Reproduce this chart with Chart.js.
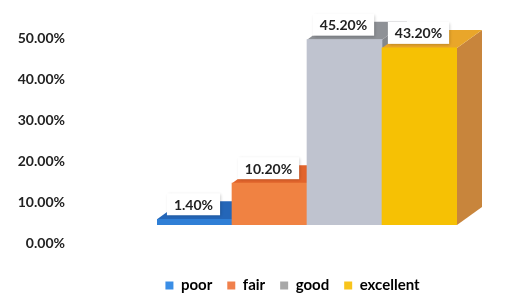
<!DOCTYPE html>
<html>
<head>
<meta charset="utf-8">
<script src="https://cdn.jsdelivr.net/npm/chart.js@4.4.1/dist/chart.umd.min.js"></script>
<style>
  html, body { margin: 0; padding: 0; background: #fff; }
  #wrap { width: 526px; height: 296px; }
</style>
</head>
<body>
<div id="wrap"><canvas id="c" width="526" height="296"></canvas></div>
<script>
// DATA
const categories = ['poor', 'fair', 'good', 'excellent'];
const shares = [1.4, 10.2, 45.2, 43.2];
const yTicks = [0, 10, 20, 30, 40, 50];

// face colours: front / top / side
const frontColors = ['#2f7fd6', '#f08242', '#bfc3cf', '#f6c104'];
const topColors = ['#2466b8', '#e2642c', '#8e9196', '#e9a62a'];
const sideColors = ['#1f5aa6', '#d8602a', '#84878c', '#c8853c'];
const legendColors = ['#3a8ee6', '#f0804c', '#a8a8a8', '#f8c41c'];

const DX = 25, DY = -18;
const FONT = 'Lato, "Open Sans", sans-serif';

function poly(ctx, pts, color) {
  ctx.beginPath();
  ctx.moveTo(pts[0][0], pts[0][1]);
  for (let i = 1; i < pts.length; i++) ctx.lineTo(pts[i][0], pts[i][1]);
  ctx.closePath();
  ctx.fillStyle = color;
  ctx.fill();
}

// 3D sides + tops drawn before the fronts, left to right
const depth3d = {
  id: 'depth3d',
  afterLayout(chart) {
    // legend sits right of centre and a bit lower in the original
    const lg = chart.legend;
    lg.left = 59;
    lg.right = 526;
    lg.top += 13;
    lg.bottom += 13;
  },
  beforeDatasetsDraw(chart) {
    const ctx = chart.ctx;
    const meta = chart.getDatasetMeta(0);
    ctx.save();
    meta.data.forEach((bar, i) => {
      const l = bar.x - bar.width / 2, r = bar.x + bar.width / 2;
      const t = bar.y, b = bar.base;
      poly(ctx, [[r, t], [r + DX, t + DY], [r + DX, b + DY], [r, b]], sideColors[i]);
      poly(ctx, [[l, t], [r, t], [r + DX, t + DY], [l + DX, t + DY]], topColors[i]);
    });
    ctx.restore();
  },
  afterDatasetsDraw(chart) {
    const ctx = chart.ctx;
    const meta = chart.getDatasetMeta(0);
    ctx.save();
    ctx.font = 'bold 14px ' + FONT;
    ctx.textAlign = 'center';
    ctx.textBaseline = 'middle';
    meta.data.forEach((bar, i) => {
      const txt = shares[i].toFixed(2) + '%';
      const w = ctx.measureText(txt).width + 14;
      const h = 22;
      const cx = bar.x - 1, bottom = bar.y - 4;
      ctx.shadowColor = 'rgba(0,0,0,0.25)';
      ctx.shadowBlur = 3;
      ctx.shadowOffsetX = 1;
      ctx.shadowOffsetY = 1;
      ctx.fillStyle = '#ffffff';
      ctx.fillRect(cx - w / 2, bottom - h, w, h);
      ctx.shadowColor = 'transparent';
      ctx.fillStyle = '#222222';
      ctx.fillText(txt, cx, bottom - h / 2 + 1);
    });
    ctx.restore();
  }
};

new Chart(document.getElementById('c'), {
  type: 'bar',
  data: {
    labels: categories,
    datasets: [{
      data: shares,
      backgroundColor: frontColors,
      borderWidth: 0,
      barPercentage: 1,
      categoryPercentage: 1
    }]
  },
  options: {
    responsive: false,
    animation: false,
    layout: { padding: { top: 20, right: 69, left: 0, bottom: 6 } },
    plugins: {
      tooltip: { enabled: false },
      legend: {
        position: 'bottom',
        labels: {
          font: { family: FONT, size: 15, weight: 'bold' },
          color: '#222',
          boxWidth: 8,
          boxHeight: 8,
          padding: 15,
          generateLabels: () => categories.map((c, i) => ({
            text: c, fillStyle: legendColors[i], strokeStyle: legendColors[i], lineWidth: 0, index: i
          }))
        }
      }
    },
    scales: {
      x: {
        grid: { display: false },
        border: { display: false },
        ticks: { display: false },
        afterFit(s) { s.height = 25; }
      },
      y: {
        min: 0,
        max: 50,
        afterBuildTicks(s) { s.ticks = yTicks.map(v => ({ value: v })); },
        afterFit(s) {
          s.width = 157;
          s.paddingTop = 0;
          s.paddingBottom = 0;
        },
        grid: { display: false, drawTicks: false },
        border: { display: false },
        ticks: {
          padding: 92,
          labelOffset: 18,
          color: '#222',
          font: { family: FONT, size: 14, weight: 'bold' },
          callback: v => v.toFixed(2) + '%'
        }
      }
    }
  },
  plugins: [depth3d]
});
</script>
</body>
</html>
